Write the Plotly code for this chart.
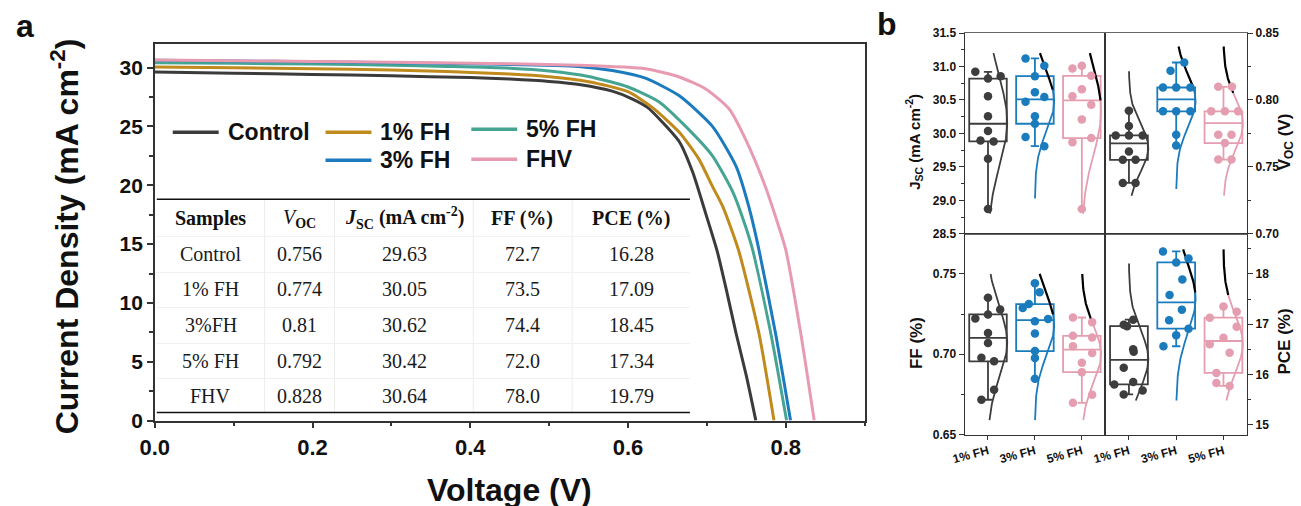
import numpy as np
import plotly.graph_objects as go

# Positions below are given in pixels of the 1301x506 picture; the photographed page shows the
# figure slightly shrunk and offset, so pixel positions are mapped through that measured offset/scale.
SX, OX = 0.99, 10.0
SY, OY = 0.964, 7.0
FW, FH = 1301, 520
def px(x): return ((x - OX) / SX) / FW
def py(y): return 1 - ((y - OY) / SY) / FH

FONT = "Liberation Sans, Arial, sans-serif"
SERIF = "Liberation Serif, Times New Roman, serif"

# ---------------- Panel a : J-V curves ----------------
SERIES = ["Control", "1% FH", "5% FH", "3% FH", "FHV"]
COLORS_A = {"Control": "#3b3b3b", "1% FH": "#c08a1c", "3% FH": "#1b7bbd",
            "5% FH": "#45a592", "FHV": "#e89bb0"}

V_CONTROL = [0, 0.1, 0.2, 0.3, 0.4, 0.45, 0.5, 0.54, 0.58, 0.605, 0.625, 0.643, 0.665,
             0.682, 0.698, 0.713, 0.725, 0.737, 0.75, 0.762]
J_CONTROL = [29.63, 29.52, 29.42, 29.3, 29.15, 29.02, 28.82, 28.55, 28.0, 27.35, 26.6, 25.4, 23.7,
             21.1, 17.7, 14.4, 11.0, 7.4, 3.8, 0]
V_1FH = [0, 0.1, 0.2, 0.3, 0.37, 0.45, 0.5, 0.55, 0.6, 0.631, 0.665, 0.69, 0.707, 0.72,
         0.74, 0.766, 0.785]
J_1FH = [30.05, 29.98, 29.9, 29.8, 29.66, 29.45, 29.22, 28.8, 27.95, 26.6, 24.5, 22.2, 19.9, 18.2,
         14.5, 7.4, 0]
V_5FH = [0, 0.1, 0.2, 0.3, 0.37, 0.45, 0.5, 0.55, 0.6, 0.639, 0.673, 0.707, 0.733, 0.749,
         0.758, 0.781, 0.801]
J_5FH = [30.42, 30.36, 30.3, 30.2, 30.1, 29.95, 29.72, 29.25, 28.35, 27.1, 25.0, 22.5, 19.4, 16.5,
         14.5, 7.4, 0]
V_3FH = [0, 0.1, 0.2, 0.3, 0.4, 0.537, 0.58, 0.622, 0.665, 0.707, 0.737, 0.753, 0.766,
         0.787, 0.806]
J_3FH = [30.62, 30.56, 30.5, 30.42, 30.32, 30.1, 29.75, 29.1, 27.6, 25.0, 21.6, 18.2, 14.5,
         7.4, 0]
V_FHV = [0, 0.1, 0.2, 0.3, 0.4, 0.537, 0.622, 0.665, 0.698, 0.728, 0.749, 0.774, 0.791,
         0.8, 0.819, 0.836]
J_FHV = [30.64, 30.58, 30.52, 30.46, 30.37, 30.2, 29.9, 29.2, 28.2, 26.5, 23.9, 19.9, 16.5,
         14.5, 7.4, 0]
JV = {"Control": (V_CONTROL, J_CONTROL), "1% FH": (V_1FH, J_1FH), "5% FH": (V_5FH, J_5FH),
      "3% FH": (V_3FH, J_3FH), "FHV": (V_FHV, J_FHV)}

# table
TABLE_HEAD = ["<b>Samples</b>", "<i>V</i><b><sub>OC</sub></b>",
              "<b><i>J</i><sub>SC</sub> (mA cm<sup>-2</sup>)</b>", "<b>FF (%)</b>", "<b>PCE (%)</b>"]
TABLE_SAMPLES = ["Control", "1% FH", "3%FH", "5% FH", "FHV"]
TABLE_VOC = ["0.756", "0.774", "0.81", "0.792", "0.828"]
TABLE_JSC = ["29.63", "30.05", "30.62", "30.42", "30.64"]
TABLE_FF = ["72.7", "73.5", "74.4", "72.0", "78.0"]
TABLE_PCE = ["16.28", "17.09", "18.45", "17.34", "19.79"]

# ---------------- Panel b : statistics ----------------
CATS = ["1% FH", "3% FH", "5% FH"]
COLORS_B = ["#3d3d3d", "#1a7bbd", "#e59db0"]

JSC_1FH = [30.92, 30.82, 30.855, 30.555, 30.255, 30.035, 29.895, 29.88, 29.62, 28.87]
JSC_3FH = [31.12, 31.01, 30.855, 30.615, 30.475, 30.545, 30.255, 30.145, 29.945, 29.81]
JSC_5FH = [30.97, 31.01, 30.86, 30.66, 30.555, 30.43, 30.21, 29.87, 29.93, 28.87]
VOC_1FH = [0.792, 0.7805, 0.7735, 0.7735, 0.7735, 0.7615, 0.7553, 0.7553, 0.738, 0.738]
VOC_3FH = [0.8218, 0.828, 0.8093, 0.8093, 0.8093, 0.7915, 0.7915, 0.7915, 0.774, 0.766]
VOC_5FH = [0.8098, 0.8098, 0.7915, 0.7915, 0.7915, 0.774, 0.774, 0.7678, 0.7555, 0.7555]
FF_1FH = [0.7352, 0.7223, 0.7248, 0.7279, 0.7133, 0.7071, 0.6979, 0.6956, 0.6779, 0.6717]
FF_3FH = [0.7442, 0.7386, 0.7289, 0.7313, 0.7219, 0.7206, 0.7129, 0.702, 0.6977, 0.6848]
FF_5FH = [0.7229, 0.72, 0.7115, 0.7104, 0.705, 0.7008, 0.6948, 0.6889, 0.6748, 0.6698]
PCE_1FH = [16.99, 16.96, 17.09, 16.5, 16.45, 16.13, 15.8, 15.85, 15.68, 15.6]
PCE_3FH = [18.45, 18.23, 18.31, 17.89, 17.58, 17.29, 17.08, 16.91, 16.78, 16.56]
PCE_5FH = [17.35, 17.13, 17.25, 16.95, 16.73, 16.6, 16.43, 16.03, 15.83, 15.77]

# horizontal spread of the dots (category units)
JSC_DX = [[-0.27, 0, 0.27, 0, 0, 0, -0.16, 0.12, 0, 0],
          [-0.2, 0.2, 0, 0, -0.2, 0.2, 0, 0, -0.2, 0.2],
          [-0.2, 0, 0.2, 0, -0.2, 0.2, 0, -0.2, 0.2, 0]]
VOC_DX = [[0, 0, -0.28, 0, 0.29, 0, -0.13, 0.14, -0.13, 0.14],
          [-0.12, 0.17, -0.28, 0, 0.3, -0.28, 0, 0.3, 0, 0],
          [-0.11, 0.18, -0.26, 0.03, 0.31, -0.11, 0.17, 0.03, -0.11, 0.17]]
FF_DX = [[0, -0.27, 0, 0.26, 0, 0, -0.14, 0.13, 0.13, -0.14],
         [0, 0.1, -0.26, -0.13, 0.28, 0, 0, 0, 0, 0],
         [-0.19, 0.22, -0.19, 0.22, -0.19, 0.22, 0, 0, 0.22, -0.19]]
PCE_DX = [[-0.11, -0.04, 0.09, 0.09, 0.1, -0.11, -0.31, 0.09, 0.29, -0.11],
          [-0.28, 0, 0.26, 0.13, -0.14, 0.12, -0.15, 0.26, 0, -0.27],
          [0, -0.29, 0.28, 0.28, 0, -0.29, 0.13, -0.15, -0.15, 0.13]]

# distribution curve extents (low, high) and level above which curve is black
JSC_SPAN = [(28.8, 31.2), (29.03, 31.2), (28.8, 31.2)]
JSC_BLACK = [None, 30.67, 30.5]
VOC_SPAN = [(0.7285, 0.8215), (0.7335, 0.84), (0.7285, 0.84)]
VOC_BLACK = [None, 0.811, 0.806]
FF_SPAN = [(0.659, 0.75), (0.659, 0.75), (0.659, 0.75)]
FF_BLACK = [None, 0.7254, 0.7223]
PCE_SPAN = [(15.48, 18.21), (15.48, 18.49), (15.48, 18.49)]
PCE_BLACK = [None, 17.65, 17.58]

fig = go.Figure()

# ---- panel a traces
for name in SERIES:
    v, j = JV[name]
    fig.add_trace(go.Scatter(x=v, y=j, mode="lines", name=name, showlegend=False,
                             line=dict(color=COLORS_A[name], width=3, shape="spline", smoothing=0.6),
                             xaxis="x", yaxis="y", hoverinfo="skip"))

# ---- panel b traces
metrics = [
    ([JSC_1FH, JSC_3FH, JSC_5FH], JSC_DX, JSC_SPAN, JSC_BLACK, "x2", "y2"),
    ([VOC_1FH, VOC_3FH, VOC_5FH], VOC_DX, VOC_SPAN, VOC_BLACK, "x3", "y3"),
    ([FF_1FH, FF_3FH, FF_5FH], FF_DX, FF_SPAN, FF_BLACK, "x4", "y4"),
    ([PCE_1FH, PCE_3FH, PCE_5FH], PCE_DX, PCE_SPAN, PCE_BLACK, "x5", "y5"),
]
for groups, dxs, spans, blacks, xa, ya in metrics:
    for i, vals in enumerate(groups):
        c = COLORS_B[i]
        fig.add_trace(go.Box(y=vals, x0=i + 0.5, width=0.8, boxpoints=False,
                             quartilemethod="exclusive", whiskerwidth=0.22,
                             line=dict(color=c, width=1.8), fillcolor="rgba(0,0,0,0)",
                             xaxis=xa, yaxis=ya, showlegend=False, hoverinfo="skip"))
    for i, vals in enumerate(groups):
        c = COLORS_B[i]
        center = i + 0.5
        lo, hi = spans[i]
        m, s = np.mean(vals), np.std(vals, ddof=1)
        yy = np.linspace(lo, hi, 120)
        xx = center + 0.41 * np.exp(-(yy - m) ** 2 / (2 * s ** 2))
        thr = blacks[i]
        if thr is None:
            fig.add_trace(go.Scatter(x=xx, y=yy, mode="lines", line=dict(color=c, width=1.8),
                                     xaxis=xa, yaxis=ya, showlegend=False, hoverinfo="skip"))
        else:
            lower = yy <= thr
            upper = yy >= thr - (hi - lo) / 119
            fig.add_trace(go.Scatter(x=xx[lower], y=yy[lower], mode="lines",
                                     line=dict(color=c, width=1.8),
                                     xaxis=xa, yaxis=ya, showlegend=False, hoverinfo="skip"))
            fig.add_trace(go.Scatter(x=xx[upper], y=yy[upper], mode="lines",
                                     line=dict(color="black", width=2.2),
                                     xaxis=xa, yaxis=ya, showlegend=False, hoverinfo="skip"))
    for i, vals in enumerate(groups):
        c = COLORS_B[i]
        center = i + 0.5
        fig.add_trace(go.Scatter(x=[center + d for d in dxs[i]], y=vals, mode="markers",
                                 marker=dict(color=c, size=8.5),
                                 xaxis=xa, yaxis=ya, showlegend=False, hoverinfo="skip"))

# ---------------- layout ----------------
AX = dict(showgrid=False, zeroline=False, showline=True, linecolor="#333", ticks="outside",
          tickcolor="#333")
tf_a = dict(family=FONT, size=21, color="#111", weight="bold")
tf_b = dict(family=FONT, size=12, color="#111", weight="bold")

layout = dict(
    width=FW, height=FH, margin=dict(l=0, r=0, t=0, b=0),
    paper_bgcolor="white", plot_bgcolor="white", boxmode="overlay", showlegend=False,
    xaxis=dict(AX, domain=[px(150), px(861)], range=[0, 0.9], anchor="y",
               tickvals=[0, 0.2, 0.4, 0.6, 0.8], tickformat=".1f", ticklen=6, tickwidth=1.5,
               linewidth=1.5, mirror=True, tickfont=dict(tf_a, size=22),
               minor=dict(dtick=0.1, ticklen=4, tickwidth=1.5, ticks="outside", tickcolor="#333")),
    yaxis=dict(AX, domain=[py(420), py(44)], range=[0, 32], anchor="x", dtick=5,
               ticklen=6, tickwidth=1.5, linewidth=1.5, mirror=True, tickfont=tf_a,
               minor=dict(dtick=2.5, ticklen=4, tickwidth=1.5, ticks="outside", tickcolor="#333")),
)

xl = [px(961), px(1102)]
xr = [px(1102), px(1244)]
yt = [py(233.5), py(33)]
yb = [py(434), py(233.5)]
minor_b = dict(ticklen=3, tickwidth=1, ticks="outside", tickcolor="#333")
layout.update(
    xaxis2=dict(AX, domain=xl, range=[0, 3], anchor="y2", ticks="", showticklabels=False,
                mirror=True, linecolor="#666", linewidth=1),
    yaxis2=dict(AX, domain=yt, range=[28.5, 31.5], anchor="x2", dtick=0.5, tickformat=".1f",
                ticklen=5, mirror=True, linewidth=1, tickfont=tf_b,
                minor=dict(minor_b, dtick=0.25)),
    xaxis3=dict(AX, domain=xr, range=[0, 3], anchor="y3", ticks="", showticklabels=False,
                mirror=True, linecolor="#666", linewidth=1),
    yaxis3=dict(AX, domain=yt, range=[0.70, 0.85], anchor="x3", side="right", dtick=0.05,
                tickformat=".2f", ticklen=5, mirror=True, linewidth=1, tickfont=tf_b,
                minor=dict(minor_b, dtick=0.025)),
    xaxis4=dict(AX, domain=xl, range=[0, 3], anchor="y4", tickvals=[0.5, 1.5, 2.5],
                ticktext=CATS, tickangle=-15, ticklen=4, mirror=True, linewidth=1,
                tickfont=dict(tf_b, size=12)),
    yaxis4=dict(AX, domain=yb, range=[0.65, 0.775], anchor="x4", tickvals=[0.65, 0.70, 0.75],
                tickformat=".2f", ticklen=5, mirror=True, linewidth=1, tickfont=tf_b,
                minor=dict(minor_b, dtick=0.025)),
    xaxis5=dict(AX, domain=xr, range=[0, 3], anchor="y5", tickvals=[0.5, 1.5, 2.5],
                ticktext=CATS, tickangle=-15, ticklen=4, mirror=True, linewidth=1,
                tickfont=dict(tf_b, size=12)),
    yaxis5=dict(AX, domain=yb, range=[14.8, 18.8], anchor="x5", side="right", dtick=1,
                ticklen=5, mirror=True, linewidth=1, tickfont=tf_b,
                minor=dict(minor_b, dtick=0.5)),
)

shapes = []
annotations = []

# legend (panel a), drawn as line samples + labels
LEG_POS = {"Control": (168, 132), "1% FH": (321, 132), "5% FH": (467, 129),
           "3% FH": (321, 160), "FHV": (467, 159)}
for name, (x0, y0) in LEG_POS.items():
    shapes.append(dict(type="line", xref="paper", yref="paper", x0=px(x0), x1=px(x0 + 46),
                       y0=py(y0), y1=py(y0), line=dict(color=COLORS_A[name], width=3.5)))
    annotations.append(dict(text=name, xref="paper", yref="paper", x=px(x0 + 53), y=py(y0),
                            xanchor="left", yanchor="middle", showarrow=False,
                            font=dict(family=FONT, size=23, color="#111", weight="bold")))

# table inside panel a
TAB_X0, TAB_X1 = 152, 686
COL_X = [206, 295, 400, 518, 627]
COL_SEP = [260, 330, 469, 568]
ROW_Y = [218, 254, 289, 325, 360, 395]
ROW_SEP = [236, 272, 307, 343, 378]
for xs in COL_SEP:
    shapes.append(dict(type="line", xref="paper", yref="paper", x0=px(xs), x1=px(xs),
                       y0=py(199), y1=py(412), line=dict(color="#ececec", width=1)))
for ys in ROW_SEP:
    shapes.append(dict(type="line", xref="paper", yref="paper", x0=px(TAB_X0), x1=px(TAB_X1),
                       y0=py(ys), y1=py(ys), line=dict(color="#f0f0f0", width=1)))
for yline in (199, 412):
    shapes.append(dict(type="line", xref="paper", yref="paper", x0=px(TAB_X0), x1=px(TAB_X1),
                       y0=py(yline), y1=py(yline), line=dict(color="#111", width=1.5)))
columns = [TABLE_SAMPLES, TABLE_VOC, TABLE_JSC, TABLE_FF, TABLE_PCE]
for ci, col in enumerate(columns):
    annotations.append(dict(text=TABLE_HEAD[ci], xref="paper", yref="paper", x=px(COL_X[ci]),
                            y=py(ROW_Y[0]), xanchor="center", yanchor="middle", showarrow=False,
                            font=dict(family=SERIF, size=20, color="#111")))
    for ri, val in enumerate(col):
        annotations.append(dict(text=val, xref="paper", yref="paper", x=px(COL_X[ci]),
                                y=py(ROW_Y[ri + 1]), xanchor="center", yanchor="middle",
                                showarrow=False, font=dict(family=SERIF, size=20, color="#1a1a1a")))

def ann(text, x, y, size, angle=0):
    annotations.append(dict(text=text, xref="paper", yref="paper", x=px(x), y=py(y),
                            showarrow=False, textangle=angle, xanchor="center", yanchor="middle",
                            font=dict(family=FONT, size=size, color="#111", weight="bold")))

ann("a", 20, 26, 32)
ann("b", 883, 24, 32)
ann("Current Density (mA cm<sup>-2</sup>)", 60, 236, 32, -90)
ann("Voltage (V)", 505, 489, 32)
ann("J<sub>SC</sub> (mA cm<sup>-2</sup>)", 910, 142, 15, -90)
ann("V<sub>OC</sub> (V)", 1283, 142, 17, -90)
ann("FF (%)", 913, 343, 17, -90)
ann("PCE (%)", 1281, 341, 17, -90)

layout["shapes"] = shapes
layout["annotations"] = annotations
fig.update_layout(**layout)
fig.write_html("out.html")
